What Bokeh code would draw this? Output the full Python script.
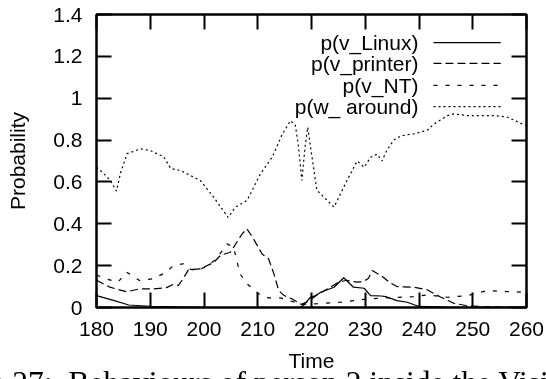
from bokeh.plotting import figure
from bokeh.models import (Range1d, LinearAxis, FixedTicker, NumeralTickFormatter, Label,
                          CustomJSTickFormatter)
from bokeh.embed import file_html
from bokeh.resources import INLINE

# ---- data -------------------------------------------------------------
X_TICKS = [180, 190, 200, 210, 220, 230, 240, 250, 260]
Y_TICKS = [0, 0.2, 0.4, 0.6, 0.8, 1.0, 1.2, 1.4]

linux_t = [180, 183, 186, 190, 195, 200, 210, 217.8, 218.6, 219.8, 220.8, 221.7, 224.2,
           226.0, 227.8, 229.8, 231.0, 233.0, 233.8, 235.9, 237.8, 240.0, 245, 250, 260]
linux_p = [0.057, 0.035, 0.012, 0.006, 0.003, 0.001, 0.0, 0.0, 0.012, 0.049, 0.057, 0.073, 0.097,
           0.142, 0.097, 0.092, 0.057, 0.055, 0.052, 0.033, 0.025, 0.005, 0.002, 0.001, 0.0]

printer_t = [180, 182.5, 185.6, 188, 190.5, 193, 194.3, 195.2, 196.1, 197.1, 199.3, 201.8, 203.1,
             204.9, 206.1, 207.1, 208, 209.2, 210.8, 212, 213, 213.9, 214.9, 216.4, 218.1, 219.5,
             221, 223, 225, 226.5, 228.5, 229.8, 230.6, 231.3, 233.1, 234.5, 235.9, 239, 241.5,
             244, 246.5, 249, 252, 256, 260]
printer_p = [0.13, 0.097, 0.075, 0.089, 0.089, 0.095, 0.11, 0.105, 0.137, 0.18, 0.185, 0.215, 0.25,
             0.264, 0.312, 0.352, 0.376, 0.328, 0.256, 0.233, 0.161, 0.081, 0.057, 0.041, 0.015, 0.03,
             0.06, 0.09, 0.12, 0.13, 0.121, 0.125, 0.14, 0.177, 0.15, 0.12, 0.1, 0.097, 0.085,
             0.05, 0.02, 0.008, 0.004, 0.002, 0.001]

nt_t = [180, 182, 184, 185.6, 188, 190.5, 193, 194.3, 196.1, 197.1, 198.6, 200.5, 202.3, 204.3,
        205.5, 206.1, 206.7, 208, 210.2, 212, 214.2, 215.4, 218.1, 221.2, 225.4, 230.4, 234, 239,
        241.5, 245.3, 249, 252.7, 256.4, 260]
nt_p = [0.155, 0.135, 0.121, 0.169, 0.129, 0.137, 0.169, 0.2, 0.209, 0.185, 0.177, 0.195, 0.233, 0.304,
        0.288, 0.225, 0.161, 0.113, 0.065, 0.046, 0.046, 0.037, 0.015, 0.018, 0.025, 0.041, 0.046, 0.052,
        0.06, 0.049, 0.057, 0.081, 0.076, 0.073]

around_t = [180, 181.1, 182.6, 183.7, 184.5, 185.7, 188.2, 190, 192.5, 193.8, 195.6, 199.3, 201.8,
            204.5, 205.8, 208, 210.5, 212.7, 214.6, 216.1, 217, 217.6, 218.2, 218.8, 219.3, 220.1,
            221, 224.2, 226.6, 228.5, 229.8, 231, 232.2, 233.1, 234, 235.3, 236.6, 239, 241.5,
            242.8, 245.3, 246.5, 249, 251.4, 254, 256.4, 259.2, 260]
around_p = [0.67, 0.646, 0.607, 0.556, 0.646, 0.735, 0.758, 0.75, 0.72, 0.664, 0.655, 0.607, 0.527,
            0.43, 0.479, 0.511, 0.639, 0.719, 0.83, 0.893, 0.87, 0.766, 0.607, 0.766, 0.861, 0.718,
            0.56, 0.48, 0.607, 0.70, 0.67, 0.718, 0.733, 0.70, 0.75, 0.80, 0.82, 0.83, 0.846,
            0.877, 0.917, 0.925, 0.917, 0.917, 0.917, 0.91, 0.877, 0.87]

SERIES_NAMES = ["p(v_Linux)", "p(v_printer)", "p(v_NT)", "p(w_ around)"]
X_LABEL = "Time"
Y_LABEL = "Probability"
CAPTION = "Figure 27:\u00a0 Behaviours of person 2 inside the Vision Lab"

# ---- styles / layout -------------------------------------------------
DASHES = ["solid", "8 4", "4 8", "2 3"]
FONT = "Liberation Sans"
FS = "21px"
LEG_TEXT_X = 239.9          # right edge of legend text (data x)
LEG_LINE = (242.7, 255.2)   # legend sample extent (data x)
LEG_ROWS = [1.266, 1.166, 1.061, 0.960]
CAPTION_PAD = "\u00a0" * 8  # shifts the centred caption to the left

p = figure(width=546, height=420, output_backend="svg", toolbar_location=None,
           x_range=Range1d(180, 260), y_range=Range1d(0, 1.4),
           min_border_left=96, min_border_right=20, min_border_top=14, min_border_bottom=113)
# page is 379px tall: pin the canvas to the window corner, the caption runs off the bottom
p.styles = {"position": "fixed", "left": "0px", "top": "0px"}
p.background_fill_color = "white"
p.border_fill_color = "white"
p.grid.visible = False
p.outline_line_color = "black"
p.outline_line_width = 2.5
p.outline_line_alpha = 1.0

p.xaxis.ticker = FixedTicker(ticks=X_TICKS)
p.yaxis.ticker = FixedTicker(ticks=Y_TICKS)
p.yaxis.formatter = NumeralTickFormatter(format="0.[0]")
p.xaxis.axis_label = X_LABEL
p.yaxis.axis_label = Y_LABEL
p.xaxis.major_label_standoff = 14
p.yaxis.major_label_standoff = 14
p.xaxis.axis_label_standoff = 10
p.yaxis.axis_label_standoff = 21

blank = CustomJSTickFormatter(code="return ''")
p.add_layout(LinearAxis(ticker=FixedTicker(ticks=X_TICKS), formatter=blank), "above")
p.add_layout(LinearAxis(ticker=FixedTicker(ticks=Y_TICKS), formatter=blank), "right")

for ax in p.axis:
    ax.axis_line_color = None
    ax.major_tick_in = 15
    ax.major_tick_out = 0
    ax.major_tick_line_width = 2
    ax.major_tick_line_color = "black"
    ax.minor_tick_line_color = None
    ax.major_label_text_font = FONT
    ax.major_label_text_font_size = FS
    ax.major_label_text_color = "black"
    ax.axis_label_text_font = FONT
    ax.axis_label_text_font_size = FS
    ax.axis_label_text_font_style = "normal"
    ax.axis_label_text_color = "black"

for ax in p.above + p.right:
    ax.major_label_text_font_size = "0px"
    ax.major_label_standoff = 0

# caption of the page, only its top shows under the chart
cap = LinearAxis(ticker=FixedTicker(ticks=[]), axis_label=CAPTION + CAPTION_PAD,
                 axis_line_color=None, major_tick_in=0, major_tick_out=0,
                 minor_tick_line_color=None, major_label_text_font_size="0px",
                 major_label_standoff=0, axis_label_standoff=-10,
                 axis_label_text_font="Liberation Serif", axis_label_text_font_size="31.5px",
                 axis_label_text_font_style="normal", axis_label_text_color="black")
p.add_layout(cap, "below")

series = [(linux_t, linux_p), (printer_t, printer_p), (nt_t, nt_p), (around_t, around_p)]
for (t, v), dash, name, ry in zip(series, DASHES, SERIES_NAMES, LEG_ROWS):
    p.line(t, v, line_color="black", line_width=1.2, line_dash=dash)
    p.line(list(LEG_LINE), [ry, ry], line_color="black", line_width=1.2, line_dash=dash)
    p.add_layout(Label(x=LEG_TEXT_X, y=ry, text=name, text_align="right", text_baseline="middle",
                       text_font=FONT, text_font_size=FS, text_color="black"))

open("out.html", "w").write(file_html(p, INLINE))
